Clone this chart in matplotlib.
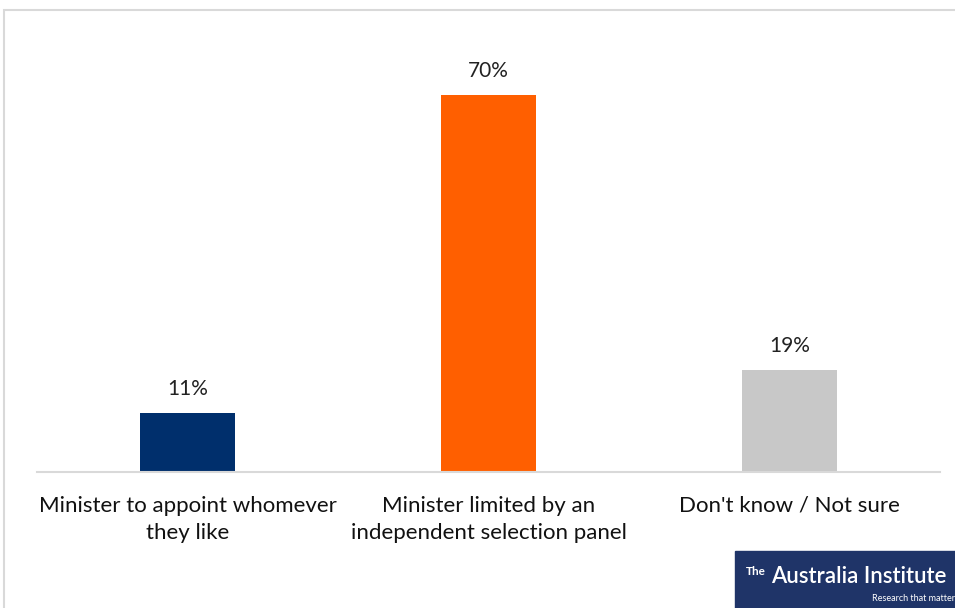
import matplotlib.pyplot as plt
from matplotlib.patches import Rectangle

categories = ["Minister to appoint whomever\nthey like",
              "Minister limited by an\nindependent selection panel",
              "Don't know / Not sure"]
values = [11, 70, 19]
colors = ["#002F6C", "#FF5F00", "#C8C8C8"]

plt.rcParams['font.family'] = ['Lato', 'DejaVu Sans']

fig = plt.figure(figsize=(9.55, 6.08), dpi=100)
# chart frame (light grey border, runs off the right edge)
fig.patches.append(Rectangle((4 / 955, -0.05), 1.0, (608 - 10) / 608 + 0.05,
                             transform=fig.transFigure, fill=False,
                             edgecolor="#D9D9D9", lw=1.5))

ax = fig.add_axes([37 / 955, (608 - 472) / 608, 903 / 955, 431 / 608])
x = range(len(values))
bars = ax.bar(x, values, width=0.316, color=colors)
for b, v in zip(bars, values):
    ax.text(b.get_x() + b.get_width() / 2, v + 2.6, f"{v}%",
            ha="center", va="bottom", fontsize=15, color="#222222")

ax.set_xlim(-0.5, 2.5)
ax.set_ylim(0, 80)
ax.set_yticks([])
ax.set_xticks(list(x))
ax.set_xticklabels(categories, fontsize=16, color="#111111", linespacing=1.45)
ax.tick_params(axis="x", length=0, pad=17)
for s in ["top", "right", "left"]:
    ax.spines[s].set_visible(False)
ax.spines["bottom"].set_color("#D9D9D9")
ax.spines["bottom"].set_linewidth(1.5)

# logo box
fig.patches.append(Rectangle((735 / 955, 0), 220 / 955, 57 / 608,
                             transform=fig.transFigure, color="#1F3468"))
fig.text(746 / 955, (608 - 575) / 608, "The", fontsize=8.5, color="white",
         ha="left", va="baseline", fontweight="bold")
fig.text(946 / 955, (608 - 583) / 608, "Australia Institute", fontsize=16,
         color="white", ha="right", va="baseline", fontweight="semibold")
fig.text(955 / 955, (608 - 601) / 608, "Research that matter", fontsize=6.5,
         color="white", ha="right", va="baseline")

fig.savefig("out.png", dpi=100)
